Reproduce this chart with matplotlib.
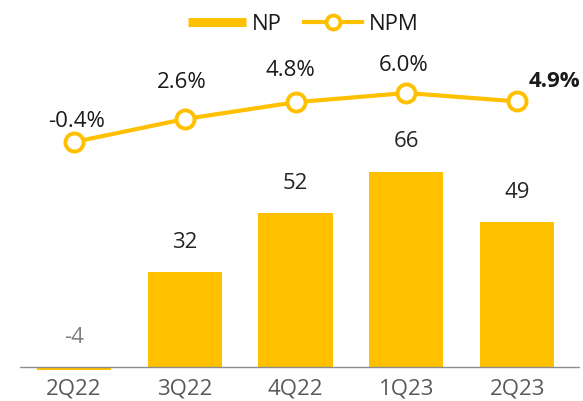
import matplotlib
matplotlib.use("Agg")
import matplotlib.pyplot as plt
from matplotlib.lines import Line2D

plt.rcParams['font.family'] = ['Open Sans', 'DejaVu Sans']

quarters = ['2Q22', '3Q22', '4Q22', '1Q23', '2Q23']
np_values = [-4, 32, 52, 66, 49]
npm_values = [-0.4, 2.6, 4.8, 6.0, 4.9]
npm_labels = ['-0.4%', '2.6%', '4.8%', '6.0%', '4.9%']

YELLOW = '#FFC000'

fig = plt.figure(figsize=(5.83, 4.01), dpi=100)
ax = fig.add_axes([20 / 583, 31 / 401, 560 / 583, 330 / 401])
ax2 = ax.twinx()

x = list(range(len(quarters)))
ax.bar(x, np_values, width=0.67, color=YELLOW, zorder=2)
ax.axhline(0, color='#8c8c8c', lw=1.0, zorder=3)
ax.set_xlim(-0.487, 4.567)
ax.set_ylim(-1, 110.5)

# bar value labels
for xi, v in zip(x, np_values):
    col = '#7f7f7f' if v < 0 else '#262626'
    ax.annotate(str(v), (xi, max(v, 0)), xytext=(0, 21.5), textcoords='offset points',
                ha='center', va='center', fontsize=16, color=col)

ax2.plot(x, npm_values, color=YELLOW, lw=3, marker='o', ms=13, mfc='white',
         mec=YELLOW, mew=2.8, zorder=4)
ax2.set_ylim(-30.17, 12.92)

# label offsets in points (per point, read from the layout)
offs = [(2, 15), (-2, 26), (-4, 23), (-2, 20), (27, 14.5)]
for i, (xi, v, lab) in enumerate(zip(x, npm_values, npm_labels)):
    last = i == len(x) - 1
    ax2.annotate(lab, (xi, v), xytext=offs[i], textcoords='offset points',
                 ha='center', va='center', fontsize=16, color='#1a1a1a',
                 fontweight='bold' if last else 'normal')

for a in (ax, ax2):
    for s in a.spines.values():
        s.set_visible(False)
ax.set_yticks([])
ax2.set_yticks([])
ax.set_xticks(x)
ax.set_xticklabels(quarters, fontsize=16, color='#595959')
ax.tick_params(axis='x', length=0, pad=6)

handles = [
    Line2D([], [], color=YELLOW, lw=6.5, solid_capstyle='butt'),
    Line2D([], [], color=YELLOW, lw=3, marker='o', ms=10, mfc='white', mec=YELLOW, mew=2.8),
]
fig.legend(handles, ['NP', 'NPM'], loc='center', bbox_to_anchor=(0.52, 0.94),
           ncol=2, frameon=False, fontsize=16, handlelength=2.6, handletextpad=0.3,
           columnspacing=1.0, labelcolor='#1a1a1a')

fig.savefig('out.png', dpi=100)
